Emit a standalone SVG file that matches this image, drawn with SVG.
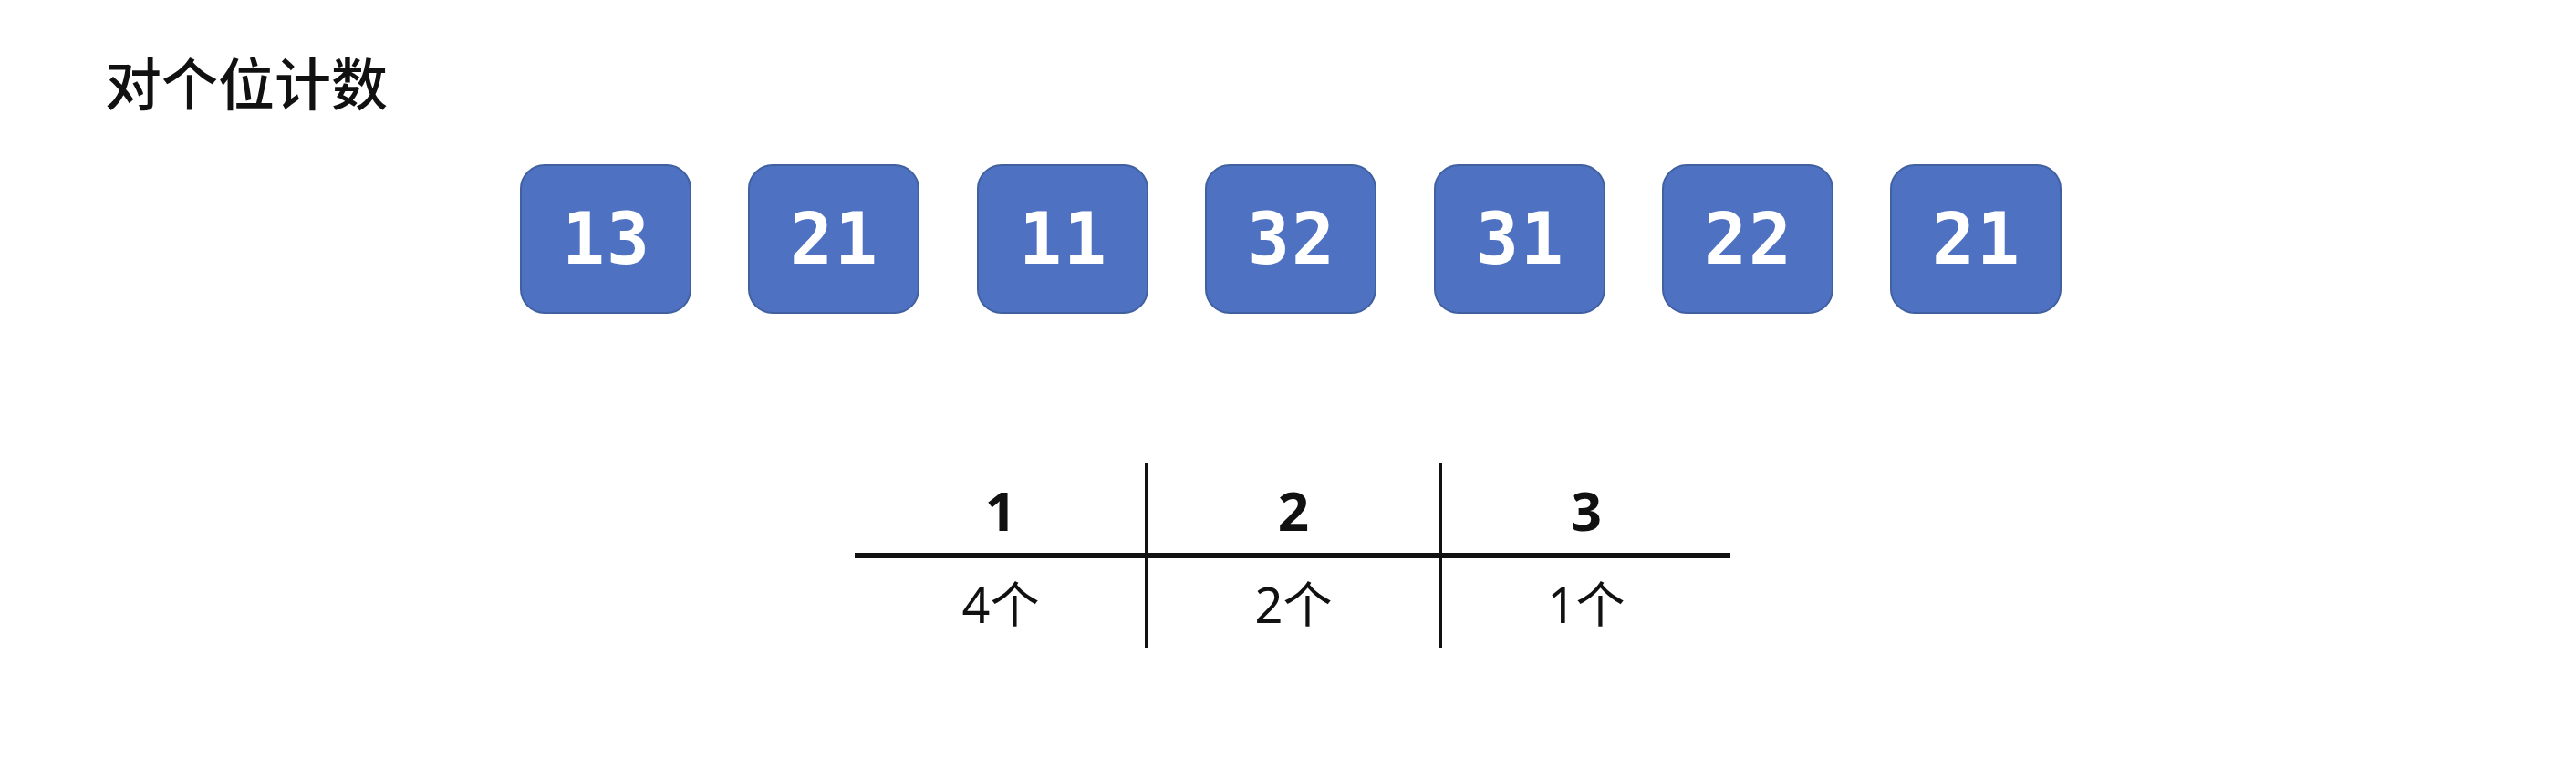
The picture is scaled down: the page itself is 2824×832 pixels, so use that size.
<svg xmlns="http://www.w3.org/2000/svg" width="2824" height="832" viewBox="0 0 2824 832">
<style>
.box{fill:#4E71C2;stroke:#40609F;stroke-width:2}
.num{font-family:"DejaVu Sans Mono","Liberation Mono",monospace;font-weight:bold;font-size:78px;fill:#fff;text-anchor:middle;letter-spacing:2px}
.title{font-family:"Noto Sans CJK SC",sans-serif;font-weight:500;font-size:62px;fill:#111}
.hd{font-family:"Noto Sans","Noto Sans CJK SC",sans-serif;font-weight:bold;font-size:60px;fill:#111;text-anchor:middle}
.cnt{font-family:"Noto Sans","Noto Sans CJK SC",sans-serif;font-size:54px;fill:#111;text-anchor:middle}
.ln{stroke:#111;fill:none}
</style>
<rect width="2824" height="832" fill="#fff"/>
<text class="title" x="115" y="116">对个位计数</text>
<g id="n1"><rect class="box" x="571" y="181" width="186" height="162" rx="26"/><text class="num" x="665" y="289">13</text></g>
<g id="n2"><rect class="box" x="821" y="181" width="186" height="162" rx="26"/><text class="num" x="915" y="289">21</text></g>
<g id="n3"><rect class="box" x="1072" y="181" width="186" height="162" rx="26"/><text class="num" x="1166" y="289">11</text></g>
<g id="n4"><rect class="box" x="1322" y="181" width="186" height="162" rx="26"/><text class="num" x="1416" y="289">32</text></g>
<g id="n5"><rect class="box" x="1573" y="181" width="186" height="162" rx="26"/><text class="num" x="1667" y="289">31</text></g>
<g id="n6"><rect class="box" x="1823" y="181" width="186" height="162" rx="26"/><text class="num" x="1917" y="289">22</text></g>
<g id="n7"><rect class="box" x="2073" y="181" width="186" height="162" rx="26"/><text class="num" x="2167" y="289">21</text></g>
<g id="table">
<line class="ln" x1="937" y1="609" x2="1897" y2="609" stroke-width="6"/>
<line class="ln" x1="1257" y1="508" x2="1257" y2="710" stroke-width="4"/>
<line class="ln" x1="1579" y1="508" x2="1579" y2="710" stroke-width="4"/>
<text class="hd" x="1097" y="582">1</text>
<text class="hd" x="1418" y="582">2</text>
<text class="hd" x="1739" y="582">3</text>
<text class="cnt" x="1097" y="683">4个</text>
<text class="cnt" x="1418" y="683">2个</text>
<text class="cnt" x="1739" y="683">1个</text>
</g>
</svg>
